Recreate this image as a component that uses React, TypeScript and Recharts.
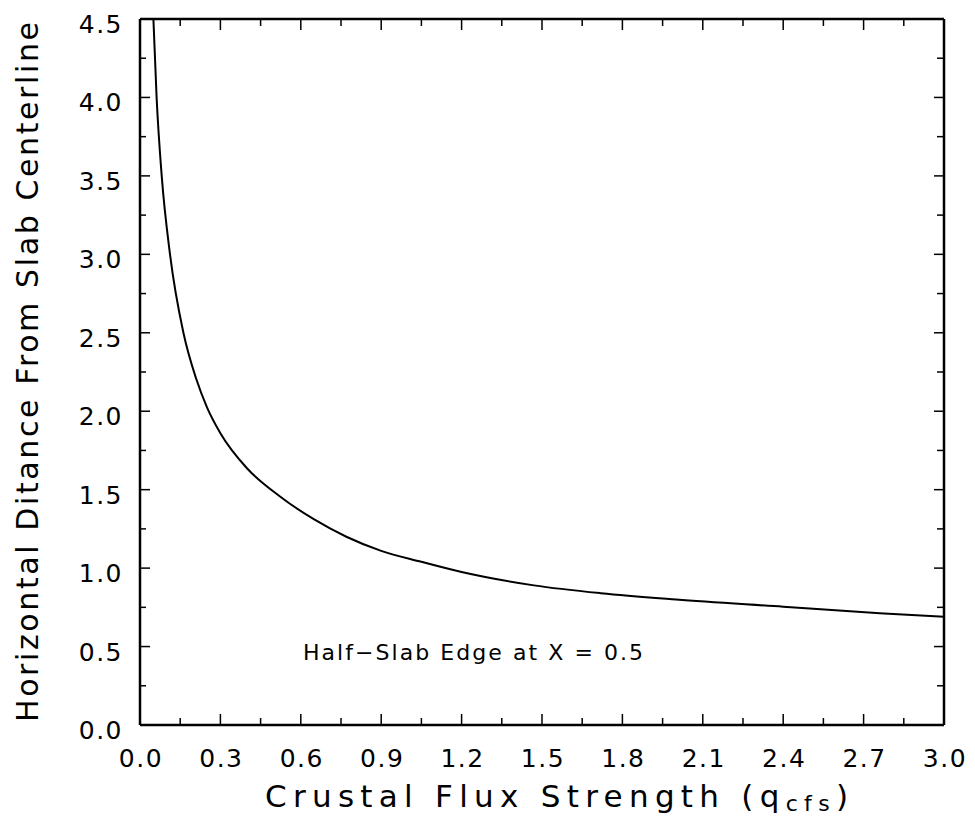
import React from 'react';
import { LineChart, Line, XAxis, YAxis } from 'recharts';

// crustal flux strength (x) vs horizontal distance from slab centerline (y)
const fluxStrength = [0.05, 0.062, 0.081, 0.112, 0.162, 0.21, 0.25, 0.3, 0.4, 0.52, 0.65, 0.77, 0.9, 1.05, 1.2, 1.47, 1.72, 2.0, 2.4, 2.76, 3.0];
const centerlineDistance = [4.5, 4.0, 3.5, 3.0, 2.5, 2.205, 2.025, 1.86, 1.635, 1.46, 1.31, 1.2, 1.11, 1.04, 0.975, 0.89, 0.84, 0.8, 0.754, 0.712, 0.69];

const xMajorTicks = [0, 0.3, 0.6, 0.9, 1.2, 1.5, 1.8, 2.1, 2.4, 2.7, 3.0];
const xMinorTicks = [0.15, 0.45, 0.75, 1.05, 1.35, 1.65, 1.95, 2.25, 2.55, 2.85];
const xTickLabels = ['0.0', '0.3', '0.6', '0.9', '1.2', '1.5', '1.8', '2.1', '2.4', '2.7', '3.0'];

const yMajorTicks = [0, 0.5, 1.0, 1.5, 2.0, 2.5, 3.0, 3.5, 4.0, 4.5];
const yMinorTicks = [0.25, 0.75, 1.25, 1.75, 2.25, 2.75, 3.25, 3.75, 4.25];
const yTickLabels = ['0.0', '0.5', '1.0', '1.5', '2.0', '2.5', '3.0', '3.5', '4.0', '4.5'];

const data = fluxStrength.map((q, i) => ({ q, d: centerlineDistance[i] }));
const xTicks = [...xMajorTicks, ...xMinorTicks].sort((a, b) => a - b);
const yTicks = [...yMajorTicks, ...yMinorTicks].sort((a, b) => a - b);

const FONT = '"DejaVu Sans", sans-serif';
const frame = { stroke: '#000', strokeWidth: 2.5 };

// ticks point inward, like the old plotting package
const BottomTick = (props: any) => {
  const { x, y, payload } = props;
  const i = xMajorTicks.indexOf(payload.value);
  return (
    <g>
      <line x1={x} y1={y} x2={x} y2={y - (i >= 0 ? 11 : 7)} stroke="#000" strokeWidth={1.5} />
      {i >= 0 && (
        <text x={x + 1} y={y + 42} textAnchor="middle" fontFamily={FONT} fontSize={25} letterSpacing={1.5} fill="#000">
          {xTickLabels[i]}
        </text>
      )}
    </g>
  );
};

const TopTick = (props: any) => {
  const { x, y, payload } = props;
  const major = xMajorTicks.indexOf(payload.value) >= 0;
  return <line x1={x} y1={y} x2={x} y2={y + (major ? 11 : 7)} stroke="#000" strokeWidth={1.5} />;
};

const LeftTick = (props: any) => {
  const { x, y, payload } = props;
  const i = yMajorTicks.indexOf(payload.value);
  return (
    <g>
      <line x1={x} y1={y} x2={x + (i >= 0 ? 10 : 6)} y2={y} stroke="#000" strokeWidth={1.5} />
      {i >= 0 && (
        <text x={x - 17} y={y + 14} textAnchor="end" fontFamily={FONT} fontSize={25} letterSpacing={1.5} fill="#000">
          {yTickLabels[i]}
        </text>
      )}
    </g>
  );
};

const RightTick = (props: any) => {
  const { x, y, payload } = props;
  const major = yMajorTicks.indexOf(payload.value) >= 0;
  return <line x1={x} y1={y} x2={x - (major ? 10 : 7)} y2={y} stroke="#000" strokeWidth={1.5} />;
};

export default function App() {
  return (
    <div style={{ position: 'absolute', left: 0, top: 0, background: '#fff' }}>
      <LineChart width={975} height={826} data={data} margin={{ top: 9, right: 21, bottom: 41, left: 40 }}>
        <XAxis
          xAxisId="bottom"
          dataKey="q"
          type="number"
          domain={[0, 3]}
          ticks={xTicks}
          interval={0}
          height={60}
          tickSize={0}
          tickMargin={0}
          tickLine={false}
          axisLine={frame}
          tick={BottomTick}
        />
        <XAxis
          xAxisId="top"
          orientation="top"
          dataKey="q"
          type="number"
          domain={[0, 3]}
          ticks={xTicks}
          interval={0}
          height={10}
          tickSize={0}
          tickMargin={0}
          tickLine={false}
          axisLine={frame}
          tick={TopTick}
        />
        <YAxis
          yAxisId="left"
          type="number"
          domain={[0, 4.5]}
          ticks={yTicks}
          interval={0}
          width={100}
          tickSize={0}
          tickMargin={0}
          tickLine={false}
          axisLine={frame}
          tick={LeftTick}
          allowDataOverflow
        />
        <YAxis
          yAxisId="right"
          orientation="right"
          type="number"
          domain={[0, 4.5]}
          ticks={yTicks}
          interval={0}
          width={10}
          tickSize={0}
          tickMargin={0}
          tickLine={false}
          axisLine={frame}
          tick={RightTick}
          allowDataOverflow
        />
        <Line
          xAxisId="bottom"
          yAxisId="left"
          type="monotone"
          dataKey="d"
          stroke="#000"
          strokeWidth={2}
          dot={false}
          isAnimationActive={false}
        />
        <text x={303} y={660} fontFamily={FONT} fontSize={22} textLength={340} lengthAdjust="spacing" fill="#000">
          Half−Slab Edge at X = 0.5
        </text>
        <text x={265} y={807} fontFamily={FONT} fontSize={31} textLength={583} lengthAdjust="spacing" fill="#000">
          Crustal Flux Strength (q
          <tspan fontSize={22} dy={4}>cfs</tspan>
          <tspan fontSize={31} dy={-4}>)</tspan>
        </text>
        <text
          x={38}
          y={372}
          transform="rotate(-90 38 372)"
          textAnchor="middle"
          fontFamily={FONT}
          fontSize={30}
          textLength={700}
          lengthAdjust="spacing"
          fill="#000"
        >
          Horizontal Ditance From Slab Centerline
        </text>
      </LineChart>
    </div>
  );
}
